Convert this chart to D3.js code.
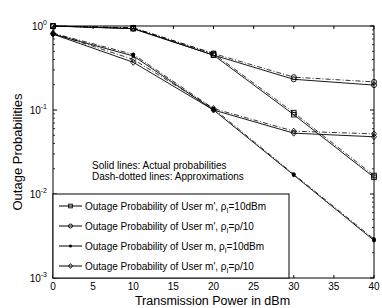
<!DOCTYPE html>
<html><head><meta charset="utf-8">
<script src="https://cdn.jsdelivr.net/npm/d3@7"></script>
<style>body{margin:0;background:#fff;} svg{display:block;font-family:"Liberation Sans",Arial,sans-serif;}</style>
</head><body><svg id="c" width="382" height="308"></svg>
<script>
const powers = [0, 10, 20, 30, 40];
const sqActual = [1.0, 0.93, 0.45, 0.088, 0.0158];
const sqApprox = [1.0, 0.95, 0.47, 0.093, 0.0166];
const ciActual = [1.0, 0.93, 0.45, 0.232, 0.198];
const ciApprox = [1.0, 0.95, 0.47, 0.246, 0.216];
const dotActual = [0.80, 0.44, 0.100, 0.0168, 0.0028];
const dotApprox = [0.82, 0.46, 0.104, 0.0172, 0.0029];
const diActual = [0.80, 0.37, 0.100, 0.053, 0.048];
const diApprox = [0.82, 0.40, 0.104, 0.056, 0.052];
const legendLabels = ["Outage Probability of User m', \u03c1", "Outage Probability of User m', \u03c1", "Outage Probability of User m, \u03c1", "Outage Probability of User m', \u03c1"];
const legendTails = ["=10dBm", "=\u03c1/10", "=10dBm", "=\u03c1/10"];
const xTicks = [0, 5, 10, 15, 20, 25, 30, 35, 40];
const yDecades = [0, -1, -2, -3];

const svg = d3.select("#c");
const L = 53, R = 374, T = 26, B = 278;
const x = d3.scaleLinear().domain([0, 40]).range([L, R]);
const y = d3.scaleLog().domain([1e-3, 1]).range([B, T]);

svg.append("rect").attr("x", L).attr("y", T).attr("width", R - L).attr("height", B - T)
  .attr("fill", "none").attr("stroke", "#000").attr("stroke-width", 1);

const g = svg.append("g");
xTicks.forEach(v => {
  g.append("line").attr("x1", x(v)).attr("x2", x(v)).attr("y1", B).attr("y2", B - 3).attr("stroke", "#000");
  g.append("line").attr("x1", x(v)).attr("x2", x(v)).attr("y1", T).attr("y2", T + 3).attr("stroke", "#000");
  g.append("text").attr("x", x(v)).attr("y", B + 12).attr("text-anchor", "middle").attr("font-size", 10).text(v);
});
const minor = [];
for (let e = -3; e < 0; e++) for (let m = 2; m <= 9; m++) minor.push(m * Math.pow(10, e));
minor.forEach(v => {
  g.append("line").attr("x1", L).attr("x2", L + 2).attr("y1", y(v)).attr("y2", y(v)).attr("stroke", "#000").attr("stroke-width", 0.8);
  g.append("line").attr("x1", R).attr("x2", R - 2).attr("y1", y(v)).attr("y2", y(v)).attr("stroke", "#000").attr("stroke-width", 0.8);
});
yDecades.forEach(e => {
  const v = Math.pow(10, e);
  g.append("line").attr("x1", L).attr("x2", L + 4).attr("y1", y(v)).attr("y2", y(v)).attr("stroke", "#000");
  g.append("line").attr("x1", R).attr("x2", R - 4).attr("y1", y(v)).attr("y2", y(v)).attr("stroke", "#000");
  const t = g.append("text").attr("x", L - 6).attr("y", y(v) + 4).attr("text-anchor", "end").attr("font-size", 10);
  t.append("tspan").text("10");
  t.append("tspan").attr("dy", -5).attr("font-size", 7).text(e);
});

svg.append("text").attr("x", (L + R) / 2 - 1).attr("y", 305).attr("text-anchor", "middle").attr("font-size", 12.5).text("Transmission Power in dBm");
svg.append("text").attr("transform", `translate(22,${(T + B) / 2}) rotate(-90)`).attr("text-anchor", "middle").attr("font-size", 13).text("Outage Probabilities");

const line = d3.line().x((d, i) => x(powers[i])).y(d => y(d));
const series = [
  {a: sqActual, p: sqApprox, m: "square"},
  {a: ciActual, p: ciApprox, m: "circle"},
  {a: dotActual, p: dotApprox, m: "dot"},
  {a: diActual, p: diApprox, m: "diamond"}
];
function marker(sel, type, cx, cy, k) {
  k = k || 1;
  if (type === "square") sel.append("rect").attr("x", cx - 2.3 * k).attr("y", cy - 2.3 * k).attr("width", 4.6 * k).attr("height", 4.6 * k).attr("fill", "none").attr("stroke", "#000").attr("stroke-width", 0.9);
  else if (type === "circle") sel.append("circle").attr("cx", cx).attr("cy", cy).attr("r", 2.5 * k).attr("fill", "none").attr("stroke", "#000").attr("stroke-width", 0.9);
  else if (type === "dot") sel.append("circle").attr("cx", cx).attr("cy", cy).attr("r", 1.9 * k).attr("fill", "#000");
  else sel.append("path").attr("d", `M${cx},${cy - 3 * k}L${cx + 2.5 * k},${cy}L${cx},${cy + 3 * k}L${cx - 2.5 * k},${cy}Z`).attr("fill", "none").attr("stroke", "#000").attr("stroke-width", 0.9);
}
const pg = svg.append("g");
series.forEach(s => {
  pg.append("path").attr("d", line(s.p)).attr("fill", "none").attr("stroke", "#000").attr("stroke-width", 0.8).attr("stroke-dasharray", "5,2,1,2");
  pg.append("path").attr("d", line(s.a)).attr("fill", "none").attr("stroke", "#000").attr("stroke-width", 0.9);
  s.p.forEach((v, i) => marker(pg, s.m, x(powers[i]), y(v)));
  s.a.forEach((v, i) => marker(pg, s.m, x(powers[i]), y(v)));
});

svg.append("text").attr("x", 92).attr("y", 169).attr("font-size", 10).text("Solid lines: Actual probabilities");
svg.append("text").attr("x", 92).attr("y", 180).attr("font-size", 10).text("Dash-dotted lines: Approximations");

const lg = svg.append("g");
lg.append("rect").attr("x", L).attr("y", y(0.01)).attr("width", 289 - L).attr("height", B - y(0.01)).attr("fill", "#fff").attr("stroke", "#000");
legendLabels.forEach((lab, i) => {
  const yy = 206 + i * 20;
  lg.append("line").attr("x1", 59).attr("x2", 82).attr("y1", yy).attr("y2", yy).attr("stroke", "#000");
  marker(lg, series[i].m, 70.5, yy, 0.8);
  const t = lg.append("text").attr("x", 85).attr("y", yy + 3.5).attr("font-size", 10);
  t.append("tspan").text(lab);
  t.append("tspan").attr("dy", 3).attr("font-size", 7).text("I");
  t.append("tspan").attr("dy", -3).text(legendTails[i]);
});
</script></body></html>
